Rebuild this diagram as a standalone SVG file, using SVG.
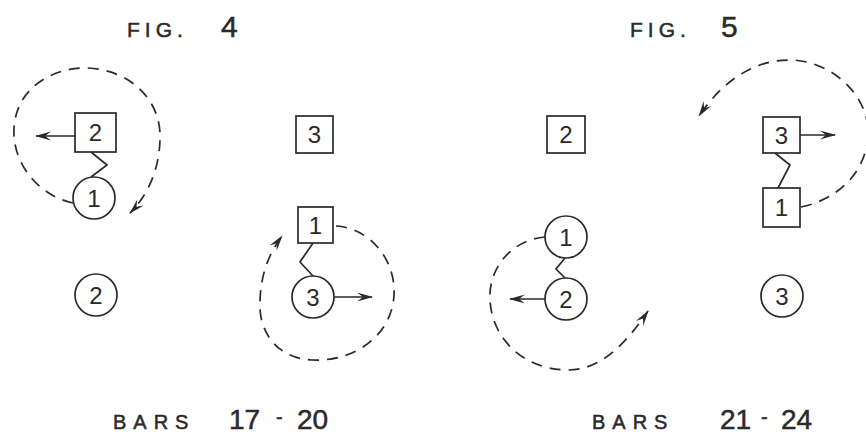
<svg xmlns="http://www.w3.org/2000/svg" width="866" height="437" viewBox="0 0 866 437">
<style>
  .box { fill: #fff; stroke: #2a2a2a; stroke-width: 1.7; }
  .num { font-family: "Liberation Sans", "DejaVu Sans", sans-serif; font-size: 24px; fill: #2a2a2a; text-anchor: middle; }
  .lbl { font-family: "Liberation Sans", "DejaVu Sans", sans-serif; fill: #2a2a2a; stroke: #2a2a2a; stroke-width: 0.5; }
  .dash { fill: none; stroke: #2a2a2a; stroke-width: 1.7; stroke-dasharray: 11 8; }
  .solid { fill: none; stroke: #2a2a2a; stroke-width: 1.7; }
</style>
<defs>
  <marker id="ah" viewBox="0 0 16 11" refX="15" refY="5.5" markerWidth="16" markerHeight="11" markerUnits="userSpaceOnUse" orient="auto">
    <path d="M0,1 L16,5.5 L0,10 L6,5.5 z" fill="#2a2a2a"/>
  </marker>
</defs>
<rect width="866" height="437" fill="#fff"/>

<g id="titles">
  <text class="lbl" x="127" y="37" font-size="21" letter-spacing="5">FIG.</text>
  <text class="lbl" x="221" y="37" font-size="30">4</text>
  <text class="lbl" x="630" y="37" font-size="21" letter-spacing="5">FIG.</text>
  <text class="lbl" x="721" y="37" font-size="30">5</text>
  <text class="lbl" x="113" y="429" font-size="20" letter-spacing="7">BARS</text>
  <text class="lbl" x="229" y="429" font-size="28">17</text>
  <text class="lbl" x="276" y="424" font-size="20">-</text>
  <text class="lbl" x="297" y="429" font-size="28">20</text>
  <text class="lbl" x="592" y="429" font-size="20" letter-spacing="7">BARS</text>
  <text class="lbl" x="720" y="429" font-size="28">21</text>
  <text class="lbl" x="761" y="424" font-size="20">-</text>
  <text class="lbl" x="781" y="429" font-size="28">24</text>
</g>

<g id="connectors">
  <!-- Fig 4 left -->
  <path class="solid" d="M91,152 L107,165 L91,177"/>
  <path class="solid" d="M75,136 L36,136" marker-end="url(#ah)"/>
  <path class="dash" d="M73,203 C40,196 12,165 14,128 C16,90 50,67 88,68 C130,70 162,100 160,140 C159,170 148,195 130,213" marker-end="url(#ah)"/>
  <!-- Fig 4 right -->
  <path class="solid" d="M313,243 L300,262 L313,276"/>
  <path class="solid" d="M334,297 L372,297" marker-end="url(#ah)"/>
  <path class="dash" d="M336,226 C370,228 396,260 394,295 C392,335 355,362 312,360 C275,358 258,330 260,300 C261,275 268,255 282,236" marker-end="url(#ah)"/>
  <!-- Fig 5 left -->
  <path class="solid" d="M565,258 L556,269 L565,278"/>
  <path class="solid" d="M545,299 L510,299" marker-end="url(#ah)"/>
  <path class="dash" d="M545,237 C510,240 488,270 490,300 C492,340 525,370 568,370 C600,370 625,345 648,311" marker-end="url(#ah)"/>
  <!-- Fig 5 right -->
  <path class="solid" d="M775,153 L790,165 L778,188"/>
  <path class="solid" d="M800,135 L835,135" marker-end="url(#ah)"/>
  <path class="dash" d="M801,207 C835,200 866,175 868,135 C870,95 830,60 790,60 C750,60 720,85 699,116" marker-end="url(#ah)"/>
</g>

<g id="f4-sq2"><rect class="box" x="75" y="113" width="41" height="39"/><text class="num" x="95.5" y="141">2</text></g>
<g id="f4-c1"><circle class="box" cx="94" cy="198" r="21"/><text class="num" x="94" y="207">1</text></g>
<g id="f4-c2"><circle class="box" cx="96" cy="295" r="21"/><text class="num" x="96" y="304">2</text></g>
<g id="f4-sq3"><rect class="box" x="296" y="116" width="37" height="37"/><text class="num" x="314.5" y="143">3</text></g>
<g id="f4-sq1"><rect class="box" x="298" y="207" width="35" height="36"/><text class="num" x="315.5" y="234">1</text></g>
<g id="f4-c3"><circle class="box" cx="313" cy="297" r="21"/><text class="num" x="313" y="306">3</text></g>

<g id="f5-sq2"><rect class="box" x="547" y="116" width="38" height="37"/><text class="num" x="566" y="143">2</text></g>
<g id="f5-c1"><circle class="box" cx="566" cy="237" r="21"/><text class="num" x="566" y="246">1</text></g>
<g id="f5-c2"><circle class="box" cx="566" cy="299" r="21"/><text class="num" x="566" y="308">2</text></g>
<g id="f5-sq3"><rect class="box" x="763" y="117" width="37" height="36"/><text class="num" x="781.5" y="144">3</text></g>
<g id="f5-sq1"><rect class="box" x="763" y="188" width="37" height="39"/><text class="num" x="781.5" y="216">1</text></g>
<g id="f5-c3"><circle class="box" cx="782" cy="296" r="21"/><text class="num" x="782" y="305">3</text></g>
</svg>
